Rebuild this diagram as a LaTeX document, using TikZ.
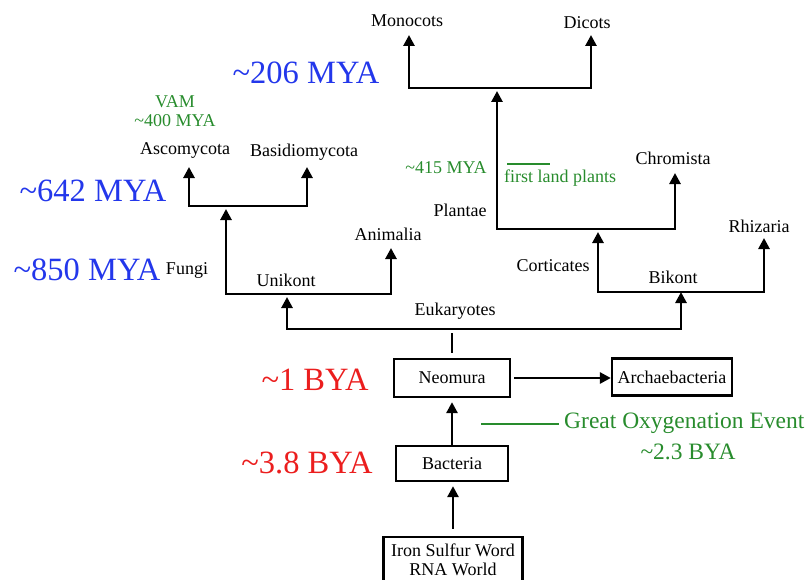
\documentclass[tikz,border=0pt]{standalone}
\usepackage{fontspec}
\setmainfont{Liberation Serif}
\usetikzlibrary{arrows.meta,calc}
\definecolor{bigblue}{RGB}{35,55,235}
\definecolor{bigred}{RGB}{235,30,30}
\definecolor{evgreen}{RGB}{40,140,45}
\newcommand{\tl}{\textasciitilde}
\tikzset{
  lbl/.style={font=\fontsize{18}{21}\selectfont, inner sep=0pt},
  big/.style={font=\fontsize{32.5}{36}\selectfont, inner sep=0pt},
  grn/.style={lbl, text=evgreen, align=center},
  ev/.style={font=\fontsize{23.5}{28}\selectfont, inner sep=0pt, text=evgreen, align=center},
  box/.style={draw, line width=2.3pt, font=\fontsize{18}{21}\selectfont, inner sep=0pt, align=center},
  tree/.style={line width=2.7pt},
  arr/.style={tree, -{Triangle[length=11pt,width=11pt]}},
  both/.style={tree, {Triangle[length=11pt,width=11pt]}-{Triangle[length=11pt,width=11pt]}},
}
\begin{document}
\begin{tikzpicture}[x=1pt,y=-1pt]
\useasboundingbox (0,0) rectangle (810,580);
% boxes
\node[box, minimum width=139pt, minimum height=46pt] (iron) at (453,560) {Iron Sulfur Word\\[-2pt]RNA World};
\node[box, minimum width=112pt, minimum height=35pt] (bact) at (452,463.5) {Bacteria};
\node[box, minimum width=116pt, minimum height=38pt] (neo) at (452,378) {Neomura};
\node[box, minimum width=120pt, minimum height=37pt] (arch) at (672,377) {Archaebacteria};
% box connectors
\draw[arr, shorten >=4pt, shorten <=7pt] (iron.north) -- (iron.north |- bact.south);
\draw[arr, shorten >=4pt] (bact.north) -- (bact.north |- neo.south);
\draw[arr, shorten <=3pt] (neo.east) -- (neo.east -| arch.west);
% tree coordinates
\coordinate (eL) at (287,329);
\coordinate (eR) at (681,329);
\coordinate (eM) at (452,329);
\coordinate (uL) at (226,294);
\coordinate (uR) at (391,294);
\coordinate (uM) at (287,294);
\coordinate (fL) at (189,206);
\coordinate (fR) at (307,206);
\coordinate (fM) at (226,206);
\coordinate (aT) at (391,248);
\coordinate (ascT) at (189,167);
\coordinate (basT) at (307,167);
\coordinate (bL) at (598,292);
\coordinate (bR) at (764,292);
\coordinate (bM) at (681,292);
\coordinate (rhT) at (764,238);
\coordinate (pL) at (497,229);
\coordinate (pR) at (675,229);
\coordinate (pM) at (598,229);
\coordinate (chT) at (675,173);
\coordinate (mL) at (409,88);
\coordinate (mR) at (591,88);
\coordinate (mM) at (497,88);
\coordinate (monT) at (409,35);
\coordinate (dicT) at (591,35);
% tree
\draw[tree] ($(eM)+(0,4)$) -- ($(neo.north)+(0,-5)$);
\draw[both, shorten <=3pt] (uM) -- (eL) -- (eR) -- (bM);
\draw[both, shorten <=3pt] (fM) -- (uL) -- (uR) -- (aT);
\draw[both] (ascT) -- (fL) -- (fR) -- (basT);
\draw[both, shorten <=3pt] (pM) -- (bL) -- (bR) -- (rhT);
\draw[both, shorten <=3pt] (mM) -- (pL) -- (pR) -- (chT);
\draw[both] (monT) -- (mL) -- (mR) -- (dicT);
% labels
\node[lbl] (euk) at (455,311) {Eukaryotes};
\node[lbl] (unik) at (286,280) {Unikont};
\node[lbl] (anim) at (388,234) {Animalia};
\node[lbl] (fungi) at (187,270) {Fungi};
\node[lbl] (asco) at (185,151) {Ascomycota};
\node[lbl] (basi) at (304,152) {Basidiomycota};
\node[grn] (vam) at (175,102) {VAM};
\node[grn] (vamt) at (175,121) {\tl400 MYA};
\node[lbl] (bik) at (673,277) {Bikont};
\node[lbl] (cort) at (553,266) {Corticates};
\node[lbl] (rhiz) at (759,226) {Rhizaria};
\node[lbl] (plan) at (460,210) {Plantae};
\node[lbl] (chro) at (673,158) {Chromista};
\node[lbl] (mono) at (407,21) {Monocots};
\node[lbl] (dico) at (587,23) {Dicots};
\node[grn] (g415) at (446,168) {\tl415 MYA};
\node[grn] (flp) at (560,178) {first land plants};
\coordinate (flpA) at (507,164);
\coordinate (flpB) at (550,164);
\draw[evgreen, line width=2.2pt] (flpA) -- (flpB);
% big dates
\node[big, text=bigblue] (m206) at (306,73) {\tl206 MYA};
\node[big, text=bigblue] (m642) at (93,191) {\tl642 MYA};
\node[big, text=bigblue] (m850) at (87,270) {\tl850 MYA};
\node[big, text=bigred] (b1) at (315,380) {\tl1 BYA};
\node[big, text=bigred] (b38) at (307,463) {\tl3.8 BYA};
% oxygenation
\node[ev, anchor=west] (goe) at (564,423) {Great Oxygenation Event};
\node[ev] (goet) at (688,452) {\tl2.3 BYA};
\coordinate (goeA) at (481,424);
\draw[evgreen, line width=2.2pt] (goeA) -- ($(goe.west)+(-5,1)$);
\end{tikzpicture}
\end{document}
